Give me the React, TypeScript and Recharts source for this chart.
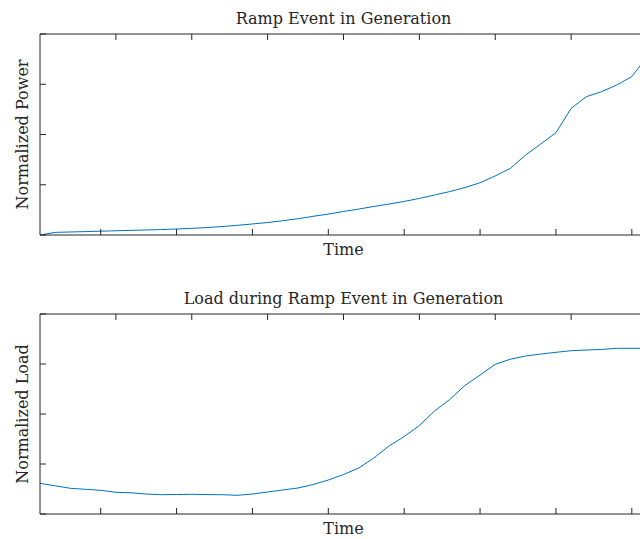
import React from 'react';
import { LineChart, Line, XAxis, YAxis, Label } from 'recharts';

// Sample index along the time axis
const timeSteps = [
  1, 2, 3, 4, 5, 6, 7, 8, 9, 10, 11, 12, 13, 14, 15, 16, 17, 18, 19, 20, 21,
  22, 23, 24, 25, 26, 27, 28, 29, 30, 31, 32, 33, 34, 35, 36, 37, 38, 39, 40, 41,
];

// Normalized generation output during the ramp
const powerValues = [
  0.0, 0.013, 0.015, 0.017, 0.019, 0.021, 0.023, 0.025, 0.027, 0.03, 0.033,
  0.037, 0.042, 0.048, 0.055, 0.062, 0.071, 0.081, 0.093, 0.104, 0.117, 0.129,
  0.142, 0.154, 0.167, 0.182, 0.199, 0.216, 0.236, 0.26, 0.294, 0.332, 0.398,
  0.453, 0.509, 0.63, 0.688, 0.713, 0.746, 0.788, 0.886,
];

// Normalized load over the same window
const loadValues = [
  0.1535, 0.141, 0.1285, 0.1235, 0.1185, 0.1085, 0.106, 0.1, 0.0965, 0.0975,
  0.0985, 0.097, 0.0965, 0.0935, 0.1, 0.11, 0.12, 0.13, 0.1475, 0.17, 0.1975,
  0.23, 0.28, 0.34, 0.3875, 0.4425, 0.515, 0.5725, 0.6425, 0.695, 0.7485,
  0.774, 0.79, 0.8, 0.8085, 0.8165, 0.82, 0.8225, 0.8285, 0.8285, 0.8285,
];

const xTicks = [5, 10, 15, 20, 25, 30, 35, 40];
const yTicks = [0, 0.25, 0.5, 0.75, 1];

const AXIS_COLOR = '#262626';
const LINE_COLOR = '#0072BD';
const FONT = '"DejaVu Serif", serif';

const powerData = timeSteps.map((t, i) => ({ t, v: powerValues[i] }));
const loadData = timeSteps.map((t, i) => ({ t, v: loadValues[i] }));

const textStyle = {
  fontFamily: FONT,
  fontSize: 16,
  fill: AXIS_COLOR,
};

// Tick marks only, no tick labels
const NoTickLabel = () => <g />;

type PanelProps = {
  data: { t: number; v: number }[];
  title: string;
  yLabel: string;
  plotHeight: number;
};

function Panel({ data, title, yLabel, plotHeight }: PanelProps) {
  const width = 660;
  const marginTop = 33;
  const marginBottom = 34;
  const height = marginTop + 1 + plotHeight + 1 + marginBottom;
  const axisCommon = {
    allowDataOverflow: true,
    tick: NoTickLabel,
    tickSize: -6,
    axisLine: { stroke: AXIS_COLOR },
    tickLine: { stroke: AXIS_COLOR },
  };
  return (
    <LineChart
      width={width}
      height={height}
      data={data}
      margin={{ top: marginTop, right: 12, bottom: marginBottom, left: 39 }}
    >
      <XAxis
        dataKey="t"
        type="number"
        domain={[1, 41]}
        ticks={xTicks}
        height={1}
        {...axisCommon}
      >
        <Label
          content={(props: any) => {
            const vb = props.viewBox || {};
            return (
              <text
                x={vb.x + vb.width / 2}
                y={vb.y + 20}
                textAnchor="middle"
                style={textStyle}
              >
                Time
              </text>
            );
          }}
        />
      </XAxis>
      <XAxis
        xAxisId="top"
        orientation="top"
        type="number"
        domain={[1, 41]}
        ticks={xTicks}
        height={1}
        {...axisCommon}
      >
        <Label
          content={(props: any) => {
            const vb = props.viewBox || {};
            return (
              <text
                x={vb.x + vb.width / 2}
                y={vb.y - 9}
                textAnchor="middle"
                style={textStyle}
              >
                {title}
              </text>
            );
          }}
        />
      </XAxis>
      <YAxis
        type="number"
        domain={[0, 1]}
        ticks={yTicks}
        width={1}
        {...axisCommon}
      >
        <Label
          content={(props: any) => {
            const vb = props.viewBox || {};
            const cx = vb.x - 11;
            const cy = vb.y + vb.height / 2;
            return (
              <text
                x={cx}
                y={cy}
                transform={`rotate(-90 ${cx} ${cy})`}
                textAnchor="middle"
                style={textStyle}
              >
                {yLabel}
              </text>
            );
          }}
        />
      </YAxis>
      <YAxis
        yAxisId="right"
        orientation="right"
        type="number"
        domain={[0, 1]}
        ticks={yTicks}
        width={1}
        {...axisCommon}
      />
      <Line
        type="linear"
        dataKey="v"
        stroke={LINE_COLOR}
        strokeWidth={1}
        dot={false}
        activeDot={false}
        isAnimationActive={false}
      />
    </LineChart>
  );
}

export default function App() {
  return (
    <div
      style={{
        position: 'fixed',
        left: 0,
        top: 0,
        width: 640,
        height: 539,
        overflow: 'hidden',
        background: '#ffffff',
      }}
    >
      <div style={{ position: 'absolute', left: 0, top: 0 }}>
        <Panel
          data={powerData}
          title="Ramp Event in Generation"
          yLabel="Normalized Power"
          plotHeight={201}
        />
      </div>
      <div style={{ position: 'absolute', left: 0, top: 280 }}>
        <Panel
          data={loadData}
          title="Load during Ramp Event in Generation"
          yLabel="Normalized Load"
          plotHeight={200}
        />
      </div>
    </div>
  );
}
